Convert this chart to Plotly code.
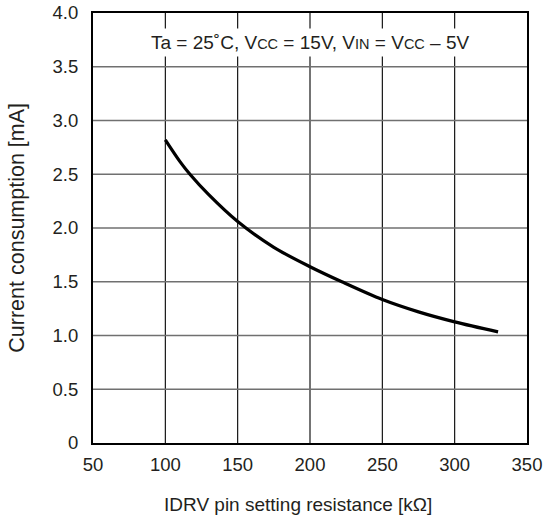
import plotly.graph_objects as go

# IDRV pin setting resistance [kΩ] vs current consumption [mA]
resistance_kohm = [100, 110, 117, 130, 150, 175, 200, 222, 250, 275, 300, 330]
current_ma = [2.82, 2.62, 2.50, 2.31, 2.06, 1.82, 1.64, 1.50, 1.335, 1.22, 1.127, 1.034]

x_ticks = [50, 100, 150, 200, 250, 300, 350]
y_ticks = [0, 0.5, 1.0, 1.5, 2.0, 2.5, 3.0, 3.5, 4.0]
y_tick_text = ["0", "0.5", "1.0", "1.5", "2.0", "2.5", "3.0", "3.5", "4.0"]

x_title = "IDRV pin setting resistance [kΩ]"
y_title = "Current consumption [mA]"

FONT = "Liberation Sans, Arial, Helvetica, sans-serif"
INK = "#231f20"

fig = go.Figure()
fig.add_trace(go.Scatter(
    x=resistance_kohm, y=current_ma, mode="lines",
    line=dict(color="black", width=3.2, shape="spline", smoothing=0.9),
    hoverinfo="skip", showlegend=False,
))

# vertical grid lines are black, horizontal ones grey
for xv in x_ticks[1:-1]:
    fig.add_shape(type="line", x0=xv, x1=xv, y0=0, y1=4, xref="x", yref="y",
                  line=dict(color="black", width=1.1), layer="below")
for yv in y_ticks[1:-1]:
    fig.add_shape(type="line", x0=50, x1=350, y0=yv, y1=yv, xref="x", yref="y",
                  line=dict(color="#707070", width=1.4), layer="below")

sub = "<span style='font-size:14.5px'>{}</span>"
fig.add_annotation(
    x=0.5, y=3.73, xref="paper", yref="y",
    text="Ta = 25˚C, V" + sub.format("CC") + " = 15V, V" + sub.format("IN")
         + " = V" + sub.format("CC") + " – 5V",
    showarrow=False, bgcolor="white", borderpad=3,
    font=dict(family=FONT, size=19, color=INK),
)

# axis titles
fig.add_annotation(
    x=0.472, y=0, xref="paper", yref="paper", yshift=-61.5,
    xanchor="center", yanchor="middle", showarrow=False,
    text=x_title, font=dict(family=FONT, size=19, color=INK),
)
fig.add_annotation(
    x=0, y=0.5, xref="paper", yref="paper", xshift=-76.3,
    xanchor="center", yanchor="middle", showarrow=False, textangle=-90,
    text=y_title, font=dict(family=FONT, size=21.5, color=INK),
)

fig.update_layout(
    width=543, height=520,
    margin=dict(l=93, r=16, t=13, b=77),
    paper_bgcolor="white", plot_bgcolor="white",
    font=dict(family=FONT, size=18.5, color=INK),
    xaxis=dict(
        range=[50, 350], tickvals=x_ticks, showgrid=False, zeroline=False,
        showline=True, linecolor="black", linewidth=2.2, mirror=True,
        ticks="", ticklabelstandoff=4, automargin=False,
    ),
    yaxis=dict(
        range=[0, 4], tickvals=y_ticks, ticktext=y_tick_text,
        showgrid=False, zeroline=False,
        showline=True, linecolor="black", linewidth=2.2, mirror=True,
        ticks="", ticklabelstandoff=9, automargin=False,
    ),
)

fig.write_html("out.html")
